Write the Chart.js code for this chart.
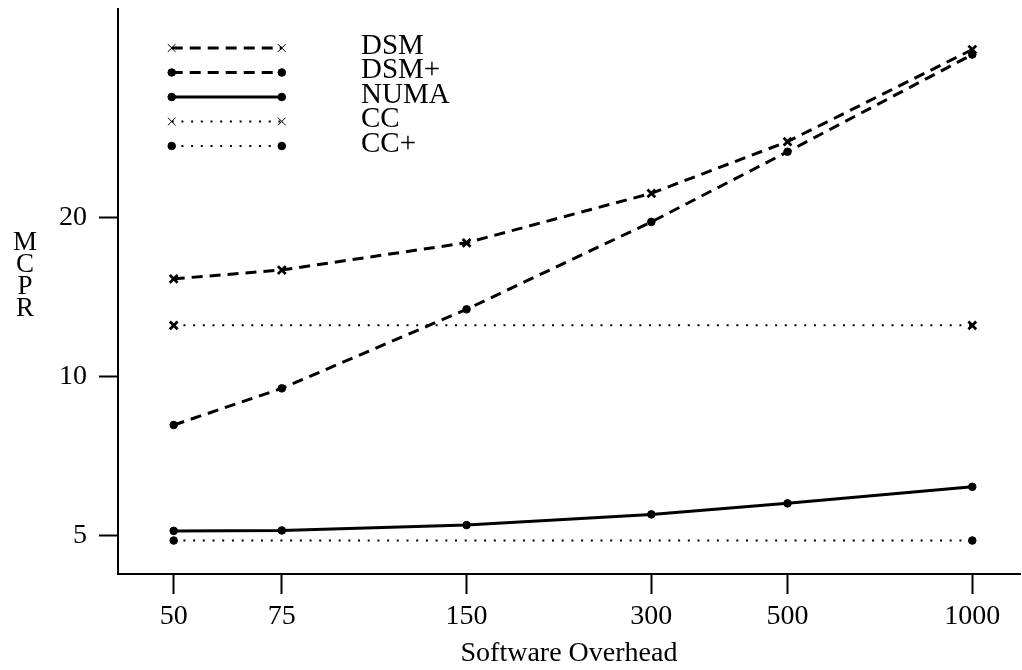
<!DOCTYPE html>
<html>
<head>
<meta charset="utf-8">
<script src="https://cdn.jsdelivr.net/npm/chart.js@4/dist/chart.umd.min.js"></script>
<style>
    body { margin: 0; background: #fff; }
    #mcprChart { display: block; }
</style>
</head>
<body>
<canvas id="mcprChart" width="1022" height="670"></canvas>
<script>
// Software overhead values on the x axis
const overhead = [50, 75, 150, 300, 500, 1000];
const ccOverhead = [50, 1000];

// MCPR per configuration
const dsm = [15.3, 15.9, 17.9, 22.2, 27.8, 41.5];
const dsmPlus = [8.1, 9.5, 13.4, 19.6, 26.6, 40.6];
const numa = [5.11, 5.12, 5.24, 5.49, 5.76, 6.19];
const cc = [12.5, 12.5];
const ccPlus = [4.9, 4.9];

const xTicks = [50, 75, 150, 300, 500, 1000];
const yTicks = [5, 10, 20];
const seriesNames = ['DSM', 'DSM+', 'NUMA', 'CC', 'CC+'];

const serif = "'Liberation Serif', 'Times New Roman', serif";

function points(xs, ys) {
    return xs.map(function(x, i) { return { x: x, y: ys[i] }; });
}

function series(label, data, dash, width, marker) {
    const cross = marker === 'cross';
    return {
        label: label,
        data: data,
        borderColor: '#000',
        backgroundColor: '#000',
        borderWidth: width,
        borderDash: dash,
        pointStyle: cross ? 'crossRot' : 'circle',
        pointRadius: cross ? 5.5 : 3.8,
        pointBorderWidth: cross ? 2.8 : 1,
        pointBorderColor: '#000',
        pointBackgroundColor: '#000',
        tension: 0,
        fill: false
    };
}

// Stacked axis label and the line-sample legend in the upper left
const annotations = {
    id: 'annotations',
    afterDraw: function(chart) {
        const ctx = chart.ctx;
        const xs = chart.scales.x;
        const x0 = xs.getPixelForValue(50) - 2;
        const x1 = xs.getPixelForValue(75);

        ctx.save();
        ctx.fillStyle = '#000';
        ctx.font = '27px ' + serif;
        ctx.textAlign = 'center';
        ctx.textBaseline = 'middle';
        ['M', 'C', 'P', 'R'].forEach(function(ch, i) {
            ctx.fillText(ch, 25, 243 + i * 22);
        });

        ctx.font = '29px ' + serif;
        ctx.textAlign = 'left';
        ctx.textBaseline = 'alphabetic';
        chart.data.datasets.forEach(function(ds, i) {
            const y = 48 + i * 24.5;
            ctx.save();
            ctx.strokeStyle = '#000';
            ctx.lineWidth = ds.borderWidth;
            ctx.setLineDash(ds.borderDash);
            ctx.beginPath();
            ctx.moveTo(x0, y);
            ctx.lineTo(x1, y);
            ctx.stroke();
            ctx.restore();

            const opts = {
                pointStyle: ds.pointStyle,
                radius: ds.pointRadius,
                borderWidth: ds.pointBorderWidth,
                rotation: 0
            };
            ctx.save();
            ctx.strokeStyle = '#000';
            ctx.fillStyle = '#000';
            Chart.helpers.drawPoint(ctx, opts, x0, y);
            Chart.helpers.drawPoint(ctx, opts, x1, y);
            ctx.restore();

            ctx.fillText(seriesNames[i], 361, y + 5.5);
        });
        ctx.restore();
    }
};

const ctx = document.getElementById('mcprChart').getContext('2d');
const mcprChart = new Chart(ctx, {
    type: 'line',
    data: {
        datasets: [
            series('DSM', points(overhead, dsm), [11, 7], 3, 'cross'),
            series('DSM+', points(overhead, dsmPlus), [11, 7], 3, 'dot'),
            series('NUMA', points(overhead, numa), [], 3, 'dot'),
            series('CC', points(ccOverhead, cc), [2, 7.7], 2, 'cross'),
            series('CC+', points(ccOverhead, ccPlus), [2, 7.7], 2, 'dot')
        ]
    },
    options: {
        responsive: false,
        animation: false,
        layout: {
            autoPadding: false,
            padding: { top: 9, right: 2, left: 0, bottom: 0 }
        },
        plugins: {
            legend: { display: false },
            tooltip: { enabled: false }
        },
        scales: {
            x: {
                type: 'logarithmic',
                min: 40.57,
                max: 1196,
                afterFit: function(scale) {
                    scale.height = 96;
                    scale.paddingLeft = 0;
                    scale.paddingRight = 0;
                },
                afterBuildTicks: function(scale) {
                    scale.ticks = xTicks.map(function(v) { return { value: v }; });
                },
                border: { display: true, color: '#000', width: 2 },
                grid: {
                    drawOnChartArea: false,
                    drawTicks: true,
                    tickLength: 20,
                    tickColor: '#000',
                    tickWidth: 2
                },
                ticks: {
                    color: '#000',
                    font: { family: serif, size: 28 },
                    padding: 6,
                    maxRotation: 0,
                    autoSkip: false,
                    callback: function(value) { return String(value); }
                },
                title: {
                    display: true,
                    text: 'Software Overhead',
                    color: '#000',
                    font: { family: serif, size: 28 },
                    padding: { top: 0, bottom: 0 }
                }
            },
            y: {
                type: 'logarithmic',
                min: 4.236,
                max: 49.5,
                afterFit: function(scale) {
                    scale.width = 118;
                    scale.paddingTop = 0;
                    scale.paddingBottom = 0;
                },
                afterBuildTicks: function(scale) {
                    scale.ticks = yTicks.map(function(v) { return { value: v }; });
                },
                border: { display: true, color: '#000', width: 2 },
                grid: {
                    drawOnChartArea: false,
                    drawTicks: true,
                    tickLength: 19,
                    tickColor: '#000',
                    tickWidth: 2
                },
                ticks: {
                    color: '#000',
                    font: { family: serif, size: 28 },
                    padding: 12,
                    autoSkip: false,
                    callback: function(value) { return String(value); }
                }
            }
        }
    },
    plugins: [annotations]
});
</script>
</body>
</html>
